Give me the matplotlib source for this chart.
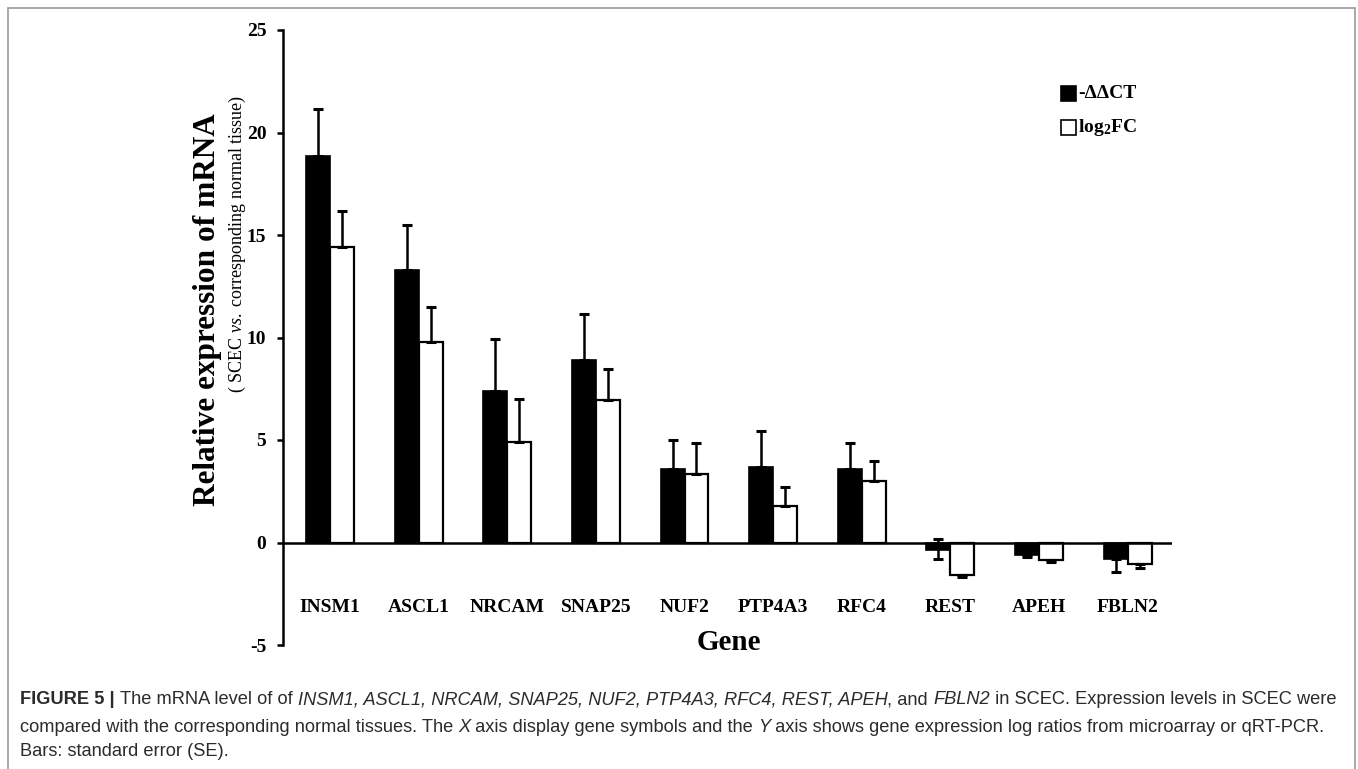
import matplotlib
matplotlib.use("Agg")
import matplotlib.pyplot as plt
from matplotlib.patches import Rectangle
import numpy as np

genes = ["INSM1", "ASCL1", "NRCAM", "SNAP25", "NUF2", "PTP4A3", "RFC4", "REST", "APEH", "FBLN2"]
ddct_vals = [18.85, 13.3, 7.37, 8.88, 3.6, 3.7, 3.6, -0.35, -0.6, -0.8]
ddct_err_up = [2.3, 2.2, 2.55, 2.25, 1.4, 1.75, 1.25, 0.5, 0.0, 0.0]
ddct_err_dn = [0.0, 0.0, 0.0, 0.0, 0.0, 0.0, 0.0, 0.45, 0.12, 0.65]
log2fc_vals = [14.4, 9.76, 4.9, 6.95, 3.35, 1.8, 3.0, -1.6, -0.85, -1.05]
log2fc_err_up = [1.75, 1.75, 2.1, 1.5, 1.5, 0.9, 1.0, 0.0, 0.0, 0.0]
log2fc_err_dn = [0.0, 0.0, 0.0, 0.0, 0.0, 0.0, 0.0, 0.08, 0.08, 0.2]
yticks = [-5, 0, 5, 10, 15, 20, 25]

plt.rcParams['mathtext.fontset'] = 'custom'
plt.rcParams['mathtext.rm'] = 'Liberation Serif'
plt.rcParams['mathtext.it'] = 'Liberation Serif:italic'
plt.rcParams['mathtext.bf'] = 'Liberation Serif:bold'

W, H = 1358, 769
fig = plt.figure(figsize=(W / 100, H / 100), dpi=100)
fig.patch.set_facecolor('white')

ax = fig.add_axes([283 / W, 1 - 645 / H, 889 / W, 615 / H])
x = np.arange(len(genes))
bw = 0.27
serif = 'Liberation Serif'

ax.bar(x - bw / 2, ddct_vals, bw, color='black', edgecolor='black', linewidth=1.2,
       yerr=[ddct_err_dn, ddct_err_up], error_kw=dict(ecolor='black', elinewidth=1.8,
                                                      capsize=3.5, capthick=2.2), zorder=2)
ax.bar(x + bw / 2, log2fc_vals, bw, color='white', edgecolor='black', linewidth=1.6,
       yerr=[log2fc_err_dn, log2fc_err_up], error_kw=dict(ecolor='black', elinewidth=1.8,
                                                          capsize=3.5, capthick=2.2), zorder=2)

ax.set_xlim(-0.53, len(genes) - 0.5)
ax.set_ylim(-5, 25)
ax.set_yticks(yticks)
ax.set_yticklabels([str(t) for t in yticks], fontfamily=serif, fontweight='bold', fontsize=14)
ax.tick_params(axis='y', direction='out', length=4, width=1.8, pad=8)
ax.set_xticks([])
for s in ['top', 'right', 'bottom']:
    ax.spines[s].set_visible(False)
ax.spines['left'].set_linewidth(1.8)
ax.axhline(0, color='black', linewidth=1.8, zorder=3)

for i, g in enumerate(genes):
    ax.text(i, -3.15, g, ha='center', va='center', fontfamily=serif,
            fontweight='bold', fontsize=14)
ax.text(4.5, -4.9, "Gene", ha='center', va='center', fontfamily=serif,
        fontweight='bold', fontsize=21)

# y label
fig.text(207 / W, 1 - 310 / H, "Relative expression of mRNA", rotation=90,
         ha='center', va='center', fontfamily=serif, fontweight='bold', fontsize=22.5)
fig.text(237 / W, 1 - 244 / H, r"( SCEC $\mathit{vs.}$ corresponding normal tissue)",
         rotation=90, ha='center', va='center', fontfamily=serif, fontsize=13)

# legend
sq = 15
for cy, fc in [(93, 'black'), (127, 'white')]:
    fig.patches.append(Rectangle((1061 / W, 1 - (cy + sq / 2) / H), sq / W, sq / H,
                                 transform=fig.transFigure, facecolor=fc,
                                 edgecolor='black', linewidth=1.2))
fig.text(1078 / W, 1 - 93 / H, "-ΔΔCT", ha='left', va='center', fontfamily=serif,
         fontweight='bold', fontsize=14)
fig.text(1078 / W, 1 - 127 / H, r"log$_\mathbf{2}$FC", ha='left', va='center', fontfamily=serif,
         fontweight='bold', fontsize=14)

# border
fig.add_artist(Rectangle((8 / W, -0.1), (1355 - 8) / W, 1.1 - 8 / H, transform=fig.transFigure,
                         facecolor='none', edgecolor='#9a9a9a', linewidth=1.2))

# caption
renderer = fig.canvas.get_renderer()
cap_lines = [
    [("FIGURE 5 | ", 'bold', 'normal'), ("The mRNA level of of ", 'normal', 'normal'),
     ("INSM1, ASCL1, NRCAM, SNAP25, NUF2, PTP4A3, RFC4, REST, APEH", 'normal', 'italic'),
     (", and ", 'normal', 'normal'), ("FBLN2", 'normal', 'italic'),
     (" in SCEC. Expression levels in SCEC were", 'normal', 'normal')],
    [("compared with the corresponding normal tissues. The ", 'normal', 'normal'),
     ("X", 'normal', 'italic'), (" axis display gene symbols and the ", 'normal', 'normal'),
     ("Y", 'normal', 'italic'),
     (" axis shows gene expression log ratios from microarray or qRT-PCR.", 'normal', 'normal')],
    [("Bars: standard error (SE).", 'normal', 'normal')],
]
cap_y = [700, 727, 752]
cap_color = '#2b2b2b'


def measure(line, fs):
    tot = 0
    for txt, wt, st in line:
        t = fig.text(0, 0, txt, fontfamily='Liberation Sans', fontweight=wt,
                     fontstyle=st, fontsize=fs)
        tot += t.get_window_extent(renderer=renderer).width
        t.remove()
    return tot


base_fs = 11.0
cap_fs = base_fs * (1315.0 / measure(cap_lines[0], base_fs))
for line, cy in zip(cap_lines, cap_y):
    xpix = 20
    for txt, wt, st in line:
        t = fig.text(xpix / W, 1 - cy / H, txt, ha='left', va='center',
                     fontfamily='Liberation Sans', fontweight=wt, fontstyle=st,
                     fontsize=cap_fs, color=cap_color)
        bb = t.get_window_extent(renderer=renderer)
        xpix += bb.width

fig.savefig("out.png", dpi=100, facecolor='white')
